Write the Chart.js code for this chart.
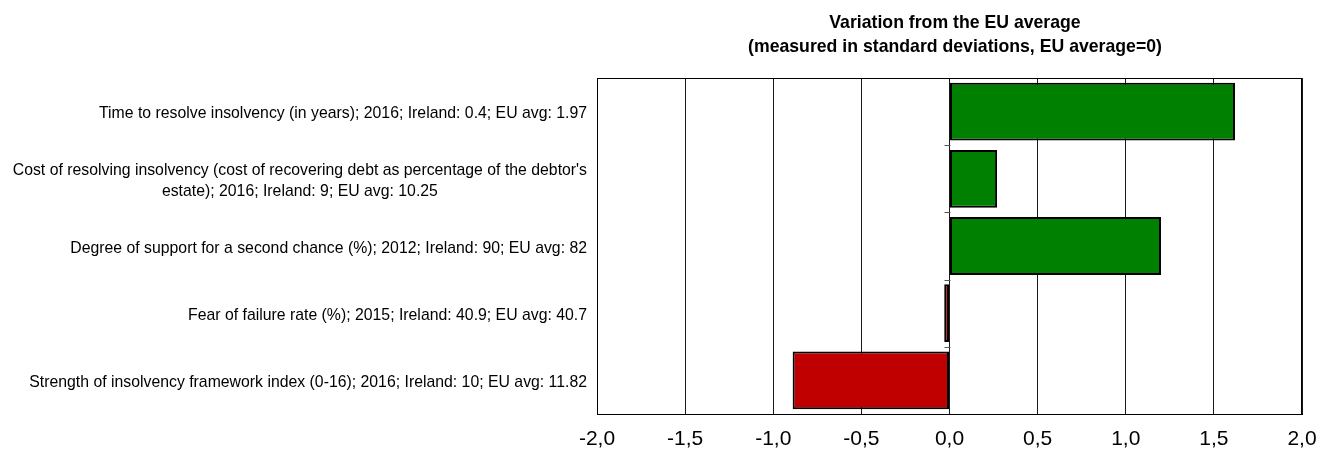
<!DOCTYPE html>
<html>
<head>
<meta charset="utf-8">
<script src="https://cdn.jsdelivr.net/npm/chart.js@4.4.1/dist/chart.umd.min.js"></script>
<style>
  html, body { margin: 0; padding: 0; background: #ffffff; }
  #wrap { width: 1332px; height: 450px; position: relative; }
</style>
</head>
<body>
<div id="wrap"><canvas id="chart"></canvas></div>
<script>
// Indicator labels (multi-line entries are arrays of lines)
const categories = [
  "Time to resolve insolvency (in years); 2016; Ireland: 0.4; EU avg: 1.97",
  ["Cost of resolving insolvency (cost of recovering debt as percentage of the debtor's",
   "estate); 2016; Ireland: 9; EU avg: 10.25"],
  "Degree of support for a second chance (%); 2012; Ireland: 90; EU avg: 82",
  "Fear of failure rate (%); 2015; Ireland: 40.9; EU avg: 40.7",
  "Strength of insolvency framework index (0-16); 2016; Ireland: 10; EU avg: 11.82"
];

// Distance from the EU average, in standard deviations
const deviations = [1.62, 0.27, 1.2, -0.03, -0.89];

// Horizontal axis ticks
const xTicks = [-2.0, -1.5, -1.0, -0.5, 0.0, 0.5, 1.0, 1.5, 2.0];

const titleLines = [
  "Variation from the EU average",
  "(measured in standard deviations, EU average=0)"
];

const GREEN = "#008000";
const RED = "#C00000";
const SANS = '"Liberation Sans", Arial, sans-serif';
const LABEL_FONT = "17px " + SANS;
const TITLE_FONT = "bold 19px " + SANS;
const SQUEEZE = 0.93;   // condensed look for label and title text

// draw text horizontally condensed, anchored at (x, y)
function condensedText(ctx, text, x, y, align) {
  ctx.save();
  ctx.translate(x, y);
  ctx.scale(SQUEEZE, 1);
  ctx.textAlign = align;
  ctx.fillText(text, 0, 0);
  ctx.restore();
}

const decorations = {
  id: "decorations",
  afterDraw(chart) {
    const { ctx, chartArea: a, scales } = chart;
    const y = scales.y, x = scales.x;
    ctx.save();

    // frame around the plot
    ctx.strokeStyle = "#000000";
    ctx.lineWidth = 1;
    ctx.strokeRect(Math.round(a.left) + 0.5, Math.round(a.top) + 0.5,
                   Math.round(a.right - a.left) - 1, Math.round(a.bottom - a.top));

    // small category separators on the zero line
    const zx = Math.round(x.getPixelForValue(0)) + 0.5;
    ctx.strokeStyle = "#555555";
    for (let i = 0; i < categories.length - 1; i++) {
      const py = Math.round(y.getPixelForValue(i + 0.5)) + 0.5;
      ctx.beginPath();
      ctx.moveTo(zx - 6, py);
      ctx.lineTo(zx, py);
      ctx.stroke();
    }

    // category labels, right aligned; wrapped lines centred on each other
    ctx.fillStyle = "#000000";
    ctx.font = LABEL_FONT;
    ctx.textBaseline = "alphabetic";
    const rightEdge = a.left - 10;
    const lh = 21;
    categories.forEach((lab, i) => {
      const lines = Array.isArray(lab) ? lab : [lab];
      const cy = y.getPixelForValue(i) + 6.6;
      const widest = Math.max(...lines.map(l => ctx.measureText(l).width)) * SQUEEZE;
      const cx = rightEdge - widest / 2;
      lines.forEach((l, k) => {
        const ly = cy + (k - (lines.length - 1) / 2) * lh;
        condensedText(ctx, l, cx, ly, "center");
      });
    });

    // title over the plot area
    ctx.font = TITLE_FONT;
    const tx = 955;
    condensedText(ctx, titleLines[0], tx, 27.5, "center");
    condensedText(ctx, titleLines[1], tx, 52, "center");

    ctx.restore();
  }
};

new Chart(document.getElementById("chart"), {
  type: "bar",
  data: {
    labels: categories,
    datasets: [{
      data: deviations,
      backgroundColor: deviations.map(v => v >= 0 ? GREEN : RED),
      borderColor: "#000000",
      borderWidth: 2,
      borderSkipped: false,
      categoryPercentage: 1,
      barPercentage: 0.86
    }]
  },
  options: {
    indexAxis: "y",
    responsive: true,
    maintainAspectRatio: false,
    animation: false,
    devicePixelRatio: 1,
    layout: { padding: { top: 78, right: 30, left: 0, bottom: 0 } },
    plugins: {
      legend: { display: false },
      tooltip: { enabled: false },
      title: { display: false }
    },
    scales: {
      x: {
        min: xTicks[0],
        max: xTicks[xTicks.length - 1],
        afterBuildTicks: s => { s.ticks = xTicks.map(v => ({ value: v })); },
        afterFit: s => { s.height = 36; },
        grid: { color: "#1a1a1a", lineWidth: 1, drawTicks: false },
        border: { color: "#000000", width: 1 },
        ticks: {
          color: "#000000",
          padding: 13,
          font: { family: SANS, size: 21 },
          callback: v => Number(v).toFixed(1).replace(".", ",")
        }
      },
      y: {
        afterFit: s => { s.width = 597; },
        grid: { display: false },
        border: { display: false },
        ticks: { display: false }
      }
    }
  },
  plugins: [decorations]
});
</script>
</body>
</html>
